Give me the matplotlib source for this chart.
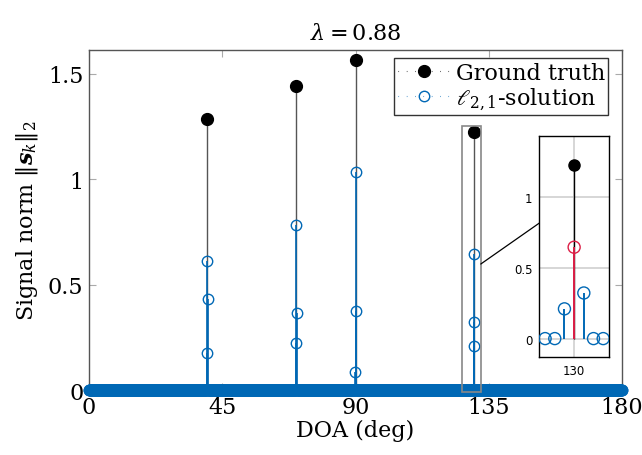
import numpy as np
import matplotlib
matplotlib.use("Agg")
import matplotlib.pyplot as plt
from matplotlib.patches import Rectangle, ConnectionPatch
from matplotlib.lines import Line2D

BLUE = "#0068B5"
RED = "#DC1E46"
GREY = "#555555"

plt.rcParams["font.family"] = ["DejaVu Serif"]
plt.rcParams["mathtext.fontset"] = "dejavuserif"

# DOA grid (0.1 deg) and values
doa = np.round(np.arange(0, 1801) * 0.1, 1)
gt_doa = [40.0, 70.0, 90.0, 130.0]
gt_val = [1.285, 1.445, 1.565, 1.225]
sol_doa = [39.9, 40.0, 40.1, 69.9, 70.0, 70.1, 89.9, 90.0, 90.1, 129.9, 130.0, 130.1]
sol_val = [0.176, 0.612, 0.432, 0.223, 0.783, 0.365, 0.085, 1.035, 0.375, 0.210, 0.645, 0.322]
lam = 0.88
zoom_doa = 130.0

solution = np.zeros(len(doa))
for d, v in zip(sol_doa, sol_val):
    solution[int(round(d * 10))] = v

fig = plt.figure(figsize=(6.42, 4.56), dpi=100)
ax = fig.add_axes([0.1386, 0.1425, 0.8303, 0.7457])

# ground truth stems
ax.vlines(gt_doa, 0, gt_val, color=GREY, linewidth=1.0, zorder=2)
# solution stems
ax.vlines(sol_doa, 0, sol_val, color=BLUE, linewidth=1.2, zorder=3)
ax.plot(doa, solution, linestyle="none", marker="o",
        markersize=7.5, markerfacecolor="none", markeredgecolor=BLUE,
        markeredgewidth=1.0, zorder=4, clip_on=False)
ax.plot(gt_doa, gt_val, linestyle="none", marker="o",
        markersize=8.5, markerfacecolor="black", markeredgecolor="black",
        zorder=5)

ax.set_xlim(0, 180)
ax.set_ylim(0, 1.614)
ax.set_xticks([0, 45, 90, 135, 180])
ax.set_yticks([0, 0.5, 1, 1.5])
ax.set_yticklabels(["0", "0.5", "1", "1.5"])
ax.tick_params(direction="in", length=5, color="#AAAAAA", labelsize=16,
               top=True, right=True, pad=4)
for s in ax.spines.values():
    s.set_color(GREY)
    s.set_linewidth(1.0)
ax.set_xlabel("DOA (deg)", fontsize=16, labelpad=1)
ax.set_ylabel(r"Signal norm $\|\mathbfit{s}_k\|_2$", fontsize=16, labelpad=6)
ax.set_title(r"$\lambda = %.2f$" % lam, fontsize=16, pad=8)

handles = [
    Line2D([], [], linestyle=(0, (0.5, 7)), linewidth=0.8, color="black",
           marker="o", markersize=8.5, markerfacecolor="black"),
    Line2D([], [], linestyle=(0, (0.5, 7)), linewidth=0.8, color=BLUE,
           marker="o", markersize=7.5, markerfacecolor="none",
           markeredgewidth=1.0),
]
labels = ["Ground truth", r"$\ell_{2,1}$-solution"]
leg = ax.legend(handles, labels, loc="upper right",
                bbox_to_anchor=(0.974, 0.975), fontsize=16, frameon=True,
                fancybox=False, edgecolor="black", borderpad=0.15,
                labelspacing=0.05, handlelength=2.4, handletextpad=0.2,
                borderaxespad=0)
leg.get_frame().set_linewidth(1.0)
leg.set_zorder(10)

# zoom rectangle
ax.add_patch(Rectangle((126.1, -0.01), 6.2, 1.262, fill=False,
                       edgecolor="#888888", linewidth=1.2, zorder=6, clip_on=False))

# inset
axi = fig.add_axes([0.840, 0.2149, 0.1086, 0.4846])
mask = (doa >= 129.65) & (doa <= 130.35)
axi.vlines(gt_doa, 0, gt_val, color="black", linewidth=1.0, zorder=2)
for d, v in zip(sol_doa, sol_val):
    c = RED if d == zoom_doa else BLUE
    axi.vlines(d, 0, v, color=c, linewidth=1.4, zorder=3)
zoom_x = doa[mask]
zoom_vals = solution[mask]
cols = [RED if d == zoom_doa else BLUE for d in zoom_x]
axi.scatter(zoom_x, zoom_vals, s=75, facecolors="none", edgecolors=cols,
            linewidths=1.0, zorder=4)
axi.plot(gt_doa, gt_val, "o", color="black", markersize=8, zorder=5)
axi.set_xlim(129.64, 130.36)
axi.set_ylim(-0.13, 1.43)
axi.set_xticks([130])
axi.set_xticklabels(["130"])
axi.set_yticks([0, 0.5, 1])
axi.set_yticklabels(["0", "0.5", "1"])
axi.tick_params(length=0, labelsize=8.5, pad=5)
for lbl in axi.get_xticklabels() + axi.get_yticklabels():
    lbl.set_family("DejaVu Sans")
axi.grid(True, color="#D0D0D0", linewidth=1.2, zorder=0)
axi.set_axisbelow(True)
for s in axi.spines.values():
    s.set_color("black")
    s.set_linewidth(1.0)

con = ConnectionPatch(xyA=(132.3, 0.598), coordsA=ax.transData,
                      xyB=(0.0, 0.606), coordsB=axi.transAxes,
                      color="black", linewidth=0.9)
fig.add_artist(con)

fig.savefig("out.png", dpi=100)
